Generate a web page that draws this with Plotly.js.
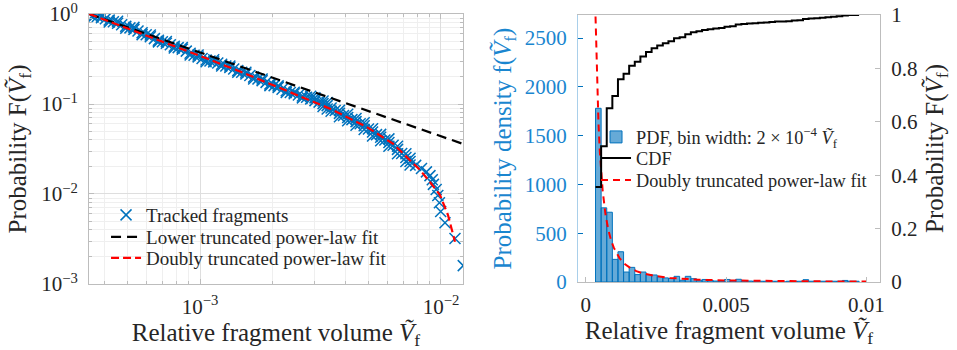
<!DOCTYPE html>
<html><head><meta charset="utf-8">
<script src="https://cdn.plot.ly/plotly-3.0.1.min.js"></script>
<style>html,body{margin:0;padding:0;background:#fff}#chart{width:957px;height:350px}</style>
</head><body><div id="chart"></div>
<script>
// ---- Left panel: complementary cumulative distribution (log-log) ----
const fragV = [3.47e-4,3.6e-4,3.75e-4,3.9e-4,4.05e-4,4.2e-4,4.37e-4,4.55e-4,4.73e-4,4.92e-4,
  5.12e-4,5.32e-4,5.53e-4,5.75e-4,5.98e-4,6.22e-4,6.47e-4,6.72e-4,6.98e-4,7.25e-4,
  7.53e-4,7.82e-4,8.12e-4,8.44e-4,8.77e-4,9.1e-4,9.45e-4,9.82e-4,1.02e-3,1.06e-3,
  1.10e-3,1.14e-3,1.185e-3,1.23e-3,1.28e-3,1.33e-3,1.38e-3,1.435e-3,1.49e-3,1.55e-3,
  1.61e-3,1.67e-3,1.74e-3,1.81e-3,1.88e-3,1.95e-3,2.03e-3,2.11e-3,2.19e-3,2.28e-3,
  2.37e-3,2.46e-3,2.56e-3,2.66e-3,2.77e-3,2.88e-3,2.88e-3,3.0e-3,3.0e-3,3.12e-3,
  3.24e-3,3.24e-3,3.24e-3,3.37e-3,3.37e-3,3.37e-3,3.5e-3,3.5e-3,3.64e-3,3.79e-3,
  3.79e-3,3.79e-3,3.94e-3,4.1e-3,4.1e-3,4.1e-3,4.27e-3,4.44e-3,4.44e-3,4.44e-3,
  4.62e-3,4.8e-3,4.8e-3,4.8e-3,5.0e-3,5.2e-3,5.2e-3,5.2e-3,5.4e-3,5.62e-3,
  5.62e-3,5.62e-3,5.85e-3,6.08e-3,6.08e-3,6.08e-3,6.33e-3,6.6e-3,6.6e-3,6.6e-3,
  6.87e-3,7.15e-3,7.15e-3,7.15e-3,7.44e-3,7.44e-3,7.44e-3,7.85e-3,8.3e-3,8.7e-3,
  9.0e-3,9.2e-3,9.3e-3,9.55e-3,9.7e-3,9.85e-3,9.97e-3,0.01039,0.01143,0.01237,
  3.6e-4,3.9e-4,4.2e-4,4.55e-4,4.92e-4,5.32e-4,5.75e-4,6.22e-4,6.72e-4,7.25e-4,
  7.82e-4,8.44e-4,9.1e-4,9.82e-4,1.06e-3,1.14e-3,1.23e-3,1.33e-3,1.435e-3,1.55e-3,
  1.67e-3,1.81e-3,1.95e-3,2.11e-3,2.28e-3,2.46e-3,2.66e-3];
const fragF = [1.000,0.970,0.938,0.910,0.886,0.855,0.821,0.789,0.759,0.729,
  0.702,0.675,0.648,0.618,0.589,0.560,0.533,0.512,0.493,0.474,
  0.456,0.439,0.423,0.407,0.387,0.367,0.349,0.334,0.321,0.309,
  0.300,0.294,0.285,0.276,0.265,0.254,0.245,0.235,0.225,0.216,
  0.207,0.199,0.190,0.182,0.174,0.167,0.160,0.153,0.146,0.140,
  0.134,0.130,0.126,0.123,0.119,0.114,0.122,0.109,0.117,0.105,
  0.101,0.108,0.094,0.096,0.104,0.088,0.0905,0.083,0.0845,0.0787,
  0.085,0.072,0.0747,0.0708,0.077,0.065,0.0671,0.0637,0.069,0.058,
  0.0604,0.0574,0.062,0.052,0.0528,0.0488,0.053,0.044,0.0457,0.0427,
  0.046,0.039,0.0399,0.0374,0.041,0.034,0.0348,0.0313,0.034,0.028,
  0.0282,0.0255,0.028,0.023,0.0230,0.025,0.021,0.0208,0.0192,0.0176,
  0.016,0.0144,0.0128,0.0112,0.0096,0.008,0.0064,0.0048,0.0032,0.0016,
  0.925,0.950,0.815,0.830,0.695,0.710,0.590,0.585,0.490,0.495,
  0.420,0.425,0.350,0.350,0.295,0.310,0.265,0.265,0.225,0.225,
  0.190,0.190,0.160,0.159,0.134,0.135,0.117];

const lowerFitV = [3.47e-4, 1e-3, 3e-3, 0.01, 0.01234];
const lowerFitF = [1, 0.374, 0.134, 0.0438, 0.036];

const doublyFitV = [3.47e-4,5.12e-4,7.51e-4,1e-3,1.466e-3,1.952e-3,2.6e-3,3.462e-3,4.917e-3,6.34e-3,7.67e-3,8.18e-3,9.0e-3,9.906e-3,0.01069,0.01143];
const doublyFitF = [1,0.678,0.457,0.343,0.2297,0.1673,0.1202,0.0887,0.0556,0.036,0.0219,0.0185,0.0136,0.00975,0.00584,0.00295];

const logTickVals = [0.001, 0.01, 0.1, 1];
const logTickText = ['10<sup>\u22123</sup>','10<sup>\u22122</sup>','10<sup>\u22121</sup>','10<sup>0</sup>'];

// ---- Right panel: histogram (PDF), CDF and fitted PDF ----
const binWidth = 0.0002;
const firstBinEdge = 0.000345;
const pdfValues = [1780,760,715,232,310,102,150,76,102,76,72,55,42,36,58,18,58,34,18,26,
  16,10,8,26,10,28,10,10,8,8,8,8,8,0,8,8,8,24,8,8,8,8,8,8,16,8,8];
const cdfValues = [0.356,0.508,0.651,0.697,0.759,0.780,0.810,0.825,0.845,0.861,0.875,0.886,
  0.894,0.902,0.913,0.917,0.928,0.935,0.939,0.944,0.947,0.949,0.951,0.956,0.958,0.964,
  0.966,0.968,0.969,0.971,0.972,0.974,0.976,0.976,0.977,0.979,0.980,0.985,0.987,0.988,
  0.990,0.992,0.993,0.995,0.998,0.9996,1.0,1.0];
const fitPdfV = [0.000345,0.0004,0.00045,0.0005,0.0006,0.0007,0.0008,0.0009,0.001,0.0012,0.0014,0.0016,
  0.0018,0.002,0.0025,0.003,0.0035,0.004,0.005,0.006,0.007,0.008,0.009,0.01];
const fitPdfF = [2720,2050,1630,1330,935,694,537,427,349,245,182,141,112,92,60,42,31,24,15.6,11,8.2,6.3,5,4.1];

const xTicksLin = [0, 0.005, 0.01];
const xTicksLinText = ['0', '0.005', '0.01'];
const pdfTicks = [0, 500, 1000, 1500, 2000, 2500];
const cdfTicks = [0, 0.2, 0.4, 0.6, 0.8, 1];
const cdfTickText = ['0', '0.2', '0.4', '0.6', '0.8', '1'];

const FONT = 'Liberation Serif, DejaVu Serif, serif';
const TXT = '#262626';
const BLUE = '#0072BD';
const LBLUE = '#1a86cf';
const AXC = '#bdbdbd';
const VF = '<i>V\u0303</i><sub>f</sub>';
const TITLE_SIZE = 25;

const traces = [
  {x: fragV, y: fragF, xaxis: 'x', yaxis: 'y', type: 'scatter', mode: 'markers',
   name: 'Tracked fragments', legend: 'legend',
   marker: {symbol: 'x-thin-open', size: 11, color: BLUE, line: {color: BLUE, width: 1.5}}},
  {x: lowerFitV, y: lowerFitF, xaxis: 'x', yaxis: 'y', type: 'scatter', mode: 'lines',
   name: 'Lower truncated power-law fit', legend: 'legend3',
   line: {color: '#000000', width: 2.2, dash: '10px,6px'}},
  {x: doublyFitV, y: doublyFitF, xaxis: 'x', yaxis: 'y', type: 'scatter', mode: 'lines',
   name: 'Doubly truncated power-law fit', legend: 'legend4',
   line: {color: '#ff0000', width: 2.2, dash: '8px,4px'}},
  {type: 'bar', x0: firstBinEdge + binWidth / 2, dx: binWidth, y: pdfValues, width: binWidth,
   xaxis: 'x2', yaxis: 'y2', legend: 'legend2',
   name: 'PDF, bin width: 2 \u00d7 10<sup>\u22124</sup> ' + VF,
   marker: {color: 'rgba(0,114,189,0.6)', line: {color: BLUE, width: 1}}},
  {type: 'scatter', mode: 'lines', x0: firstBinEdge, dx: binWidth, y: cdfValues,
   xaxis: 'x2', yaxis: 'y3', legend: 'legend5', name: 'CDF',
   line: {color: '#000000', width: 2, shape: 'hv'}},
  {type: 'scatter', mode: 'lines', x: fitPdfV, y: fitPdfF, xaxis: 'x2', yaxis: 'y2',
   legend: 'legend6', name: 'Doubly truncated power-law fit',
   line: {color: '#ff0000', width: 2, dash: '7px,5px'}}
];

const baseAxis = {
  showline: true, linecolor: AXC, linewidth: 1, ticks: 'inside', ticklen: 5, tickcolor: AXC,
  tickfont: {family: FONT, size: 21, color: TXT}, zeroline: false, automargin: false,
  ticklabeloverflow: 'allow'
};

function leg(x, yPix, size) {
  return {x: x, y: (350 - yPix) / 350, xanchor: 'left', yanchor: 'middle', bgcolor: 'rgba(0,0,0,0)',
    borderwidth: 0, font: {family: FONT, size: size, color: TXT}, itemwidth: 30};
}

const layout = {
  width: 957, height: 350, margin: {l: 0, r: 0, t: 0, b: 0},
  paper_bgcolor: '#ffffff', plot_bgcolor: '#ffffff', bargap: 0,
  font: {family: FONT, color: TXT},
  xaxis: Object.assign({}, baseAxis, {
    domain: [0.0930, 0.4838], anchor: 'y', type: 'log', range: [-3.4606, -1.9087],
    tickmode: 'array', tickvals: logTickVals, ticktext: logTickText, mirror: 'ticks',
    showgrid: true, gridcolor: '#dedede',
    minor: {dtick: 'D1', showgrid: true, gridcolor: '#efefef', ticks: 'inside', ticklen: 3, tickcolor: AXC},
    ticklabelstandoff: 4,
    title: {text: 'Relative fragment volume ' + VF, font: {family: FONT, size: TITLE_SIZE, color: TXT}, standoff: 1}
  }),
  yaxis: Object.assign({}, baseAxis, {
    domain: [0.18857, 0.96], anchor: 'x', type: 'log', range: [-3.0002, 0.0002],
    tickmode: 'array', tickvals: logTickVals, ticktext: logTickText, mirror: 'ticks',
    showgrid: true, gridcolor: '#dedede',
    minor: {dtick: 'D1', showgrid: true, gridcolor: '#efefef', ticks: 'inside', ticklen: 3, tickcolor: AXC},
    ticklabelstandoff: 6,
    title: {text: 'Probability F(' + VF + ')', font: {family: FONT, size: TITLE_SIZE, color: TXT}, standoff: 7}
  }),
  xaxis2: Object.assign({}, baseAxis, {
    domain: [0.60397, 0.91954], anchor: 'y2', range: [-0.00028, 0.01049],
    tickmode: 'array', tickvals: xTicksLin, ticktext: xTicksLinText, mirror: true,
    showgrid: false, ticklabelstandoff: 4,
    title: {text: 'Relative fragment volume ' + VF, font: {family: FONT, size: TITLE_SIZE, color: TXT}, standoff: 1}
  }),
  yaxis2: Object.assign({}, baseAxis, {
    domain: [0.19429, 0.95714], anchor: 'x2', range: [0, 2736],
    tickmode: 'array', tickvals: pdfTicks, showgrid: false,
    linecolor: '#a9cfea', tickcolor: BLUE,
    tickfont: {family: FONT, size: 21, color: LBLUE}, ticklabelstandoff: 6,
    title: {text: 'Probability density f(' + VF + ')', font: {family: FONT, size: TITLE_SIZE, color: LBLUE}, standoff: 6}
  }),
  yaxis3: Object.assign({}, baseAxis, {
    overlaying: 'y2', side: 'right', anchor: 'x2', range: [0, 1],
    tickmode: 'array', tickvals: cdfTicks, ticktext: cdfTickText, showgrid: false,
    ticklabelstandoff: 6,
    title: {text: 'Probability F(' + VF + ')', font: {family: FONT, size: TITLE_SIZE, color: TXT}, standoff: 8}
  }),
  legend: leg(0.1108, 215, 19),
  legend3: leg(0.1108, 237, 19),
  legend4: leg(0.1108, 258, 19),
  legend2: leg(0.6228, 137, 18.3),
  legend5: leg(0.6228, 158, 18.3),
  legend6: leg(0.6228, 180, 18.3),
  showlegend: true
};

Plotly.newPlot('chart', traces, layout, {staticPlot: true, displayModeBar: false});
</script></body></html>
